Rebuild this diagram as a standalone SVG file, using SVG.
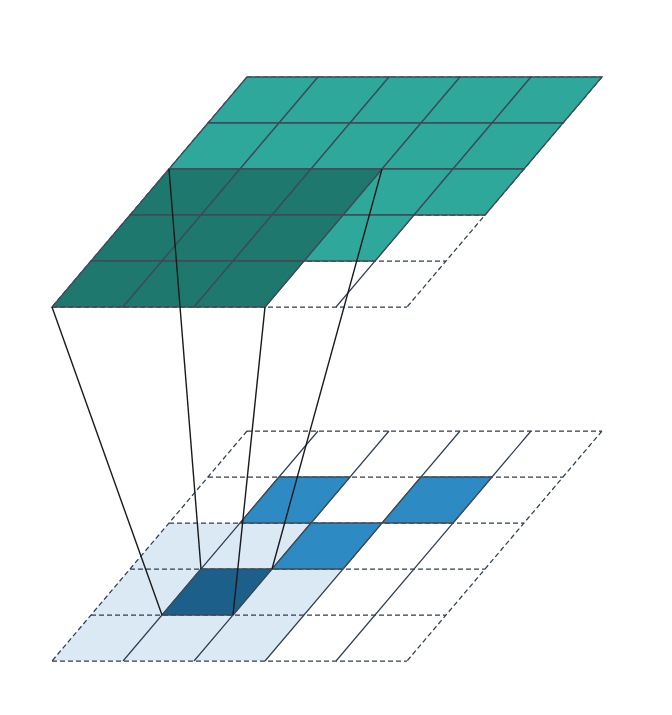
<svg xmlns="http://www.w3.org/2000/svg" xmlns:xlink="http://www.w3.org/1999/xlink" width="672" height="715" viewBox="0 0 672 715">
<style>
.dash{stroke:#2c3e50;stroke-width:1.25;stroke-dasharray:5,3;fill:none}
.solid{stroke:#2c3e50;stroke-width:1.2;fill:none}
.teal{fill:#2ea89b;stroke:#3d4b58;stroke-width:1.3}
.dteal{fill:#1e786e;stroke:#3d4b58;stroke-width:1.3}
.lblue{fill:#dbe9f5;stroke:none}
.mblue{fill:#2e8ac2;stroke:#3d4b58;stroke-width:1.3}
.dblue{fill:#1c5f8a;stroke:#3d4b58;stroke-width:1.3}
.conn{stroke:#1a1a1a;stroke-width:1.4;fill:none}
</style>
<defs>
<path id="cell" d="M0 0h71l-39 46h-71z"/>
</defs>
<rect width="672" height="715" fill="#ffffff"/>
<g id="top-grid">
<g class="dash">
<path d="M247 77H602M208 123H563M169 169H524M130 215H485M91 261H446M52 307H407M247 77L52 307M602 77L407 307"/>
</g>
<g class="solid">
<path d="M318 77L123 307M389 77L194 307M460 77L265 307M531 77L336 307"/>
</g>
<g class="teal">
<use xlink:href="#cell" x="247" y="77"/><use xlink:href="#cell" x="318" y="77"/><use xlink:href="#cell" x="389" y="77"/><use xlink:href="#cell" x="460" y="77"/><use xlink:href="#cell" x="531" y="77"/>
<use xlink:href="#cell" x="208" y="123"/><use xlink:href="#cell" x="279" y="123"/><use xlink:href="#cell" x="350" y="123"/><use xlink:href="#cell" x="421" y="123"/><use xlink:href="#cell" x="492" y="123"/>
<use xlink:href="#cell" x="382" y="169"/><use xlink:href="#cell" x="453" y="169"/>
<use xlink:href="#cell" x="343" y="215"/>
</g>
<g class="dteal">
<use xlink:href="#cell" x="169" y="169"/><use xlink:href="#cell" x="240" y="169"/><use xlink:href="#cell" x="311" y="169"/>
<use xlink:href="#cell" x="130" y="215"/><use xlink:href="#cell" x="201" y="215"/><use xlink:href="#cell" x="272" y="215"/>
<use xlink:href="#cell" x="91" y="261"/><use xlink:href="#cell" x="162" y="261"/><use xlink:href="#cell" x="233" y="261"/>
</g>
</g>
<g id="bottom-grid">
<path class="lblue" d="M169 523H382L265 661H52Z"/>
<g class="dash">
<path d="M247 431H602M208 477H563M169 523H524M130 569H485M91 615H446M52 661H407M247 431L52 661M602 431L407 661"/>
</g>
<g class="solid">
<path d="M318 431L123 661M389 431L194 661M460 431L265 661M531 431L336 661"/>
</g>
<g class="mblue">
<use xlink:href="#cell" x="279" y="477"/><use xlink:href="#cell" x="421" y="477"/><use xlink:href="#cell" x="311" y="523"/>
</g>
<g class="dblue">
<use xlink:href="#cell" x="201" y="569"/>
</g>
</g>
<g id="connectors" class="conn">
<path d="M52 307L162 615"/>
<path d="M169 169L201 569"/>
<path d="M382 169L272 569"/>
<path d="M265 307L233 615"/>
</g>
</svg>
